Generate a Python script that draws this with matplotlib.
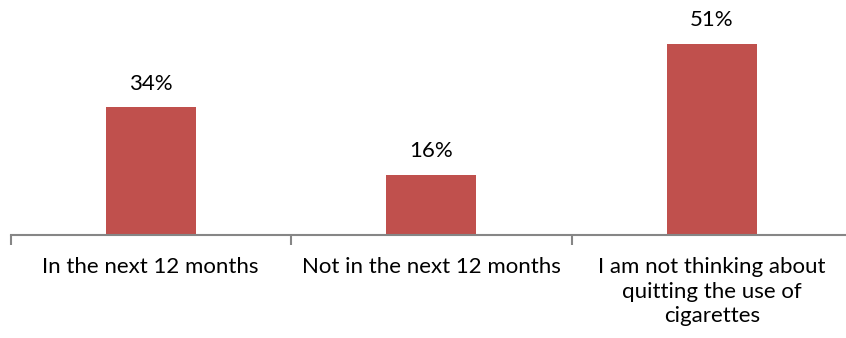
import matplotlib as mpl
mpl.use("Agg")
import matplotlib.pyplot as plt

# --- data --------------------------------------------------------------------
categories = [
    "In the next 12 months",
    "Not in the next 12 months",
    "I am not thinking about\nquitting the use of\ncigarettes",
]
values = [34, 16, 51]
value_labels = ["34%", "16%", "51%"]

# --- style -------------------------------------------------------------------
BAR_COLOR = "#C0504D"
AXIS_COLOR = "#868686"
FS = 16
plt.rcParams["font.family"] = ["Lato", "DejaVu Sans"]

W, H, DPI = 846, 338, 100
fig = plt.figure(figsize=(W / DPI, H / DPI), dpi=DPI)
# axis line at y=234.5 px from top, categories 280.5 px wide starting at x=10.5
ax = fig.add_axes([10.5 / W, (H - 234.5) / H, 841.5 / W, 224.4 / H])

x = range(len(categories))
ax.bar(x, values, width=0.32, color=BAR_COLOR, zorder=2)
for xi, v, lab in zip(x, values, value_labels):
    ax.annotate(lab, xy=(xi, v), xytext=(0, 12.5), textcoords="offset points",
                ha="center", va="baseline", fontsize=FS, color="black")

ax.set_xlim(-0.5, 2.5)
ax.set_ylim(0, 60)
for s in ("top", "right", "left"):
    ax.spines[s].set_visible(False)
ax.spines["bottom"].set_color(AXIS_COLOR)
ax.spines["bottom"].set_linewidth(1.5)
ax.set_yticks([])

# boundary tick marks between categories
ax.set_xticks([-0.5, 0.5, 1.5, 2.5])
ax.set_xticklabels([])
ax.tick_params(axis="x", length=7, width=1.5, color=AXIS_COLOR)
for xi, cat in zip(x, categories):
    ax.annotate(cat, xy=(xi, 0), xycoords=("data", "axes fraction"),
                xytext=(0, -16), textcoords="offset points",
                ha="center", va="top", fontsize=FS, linespacing=1.3)

fig.savefig("out.png", dpi=DPI)
